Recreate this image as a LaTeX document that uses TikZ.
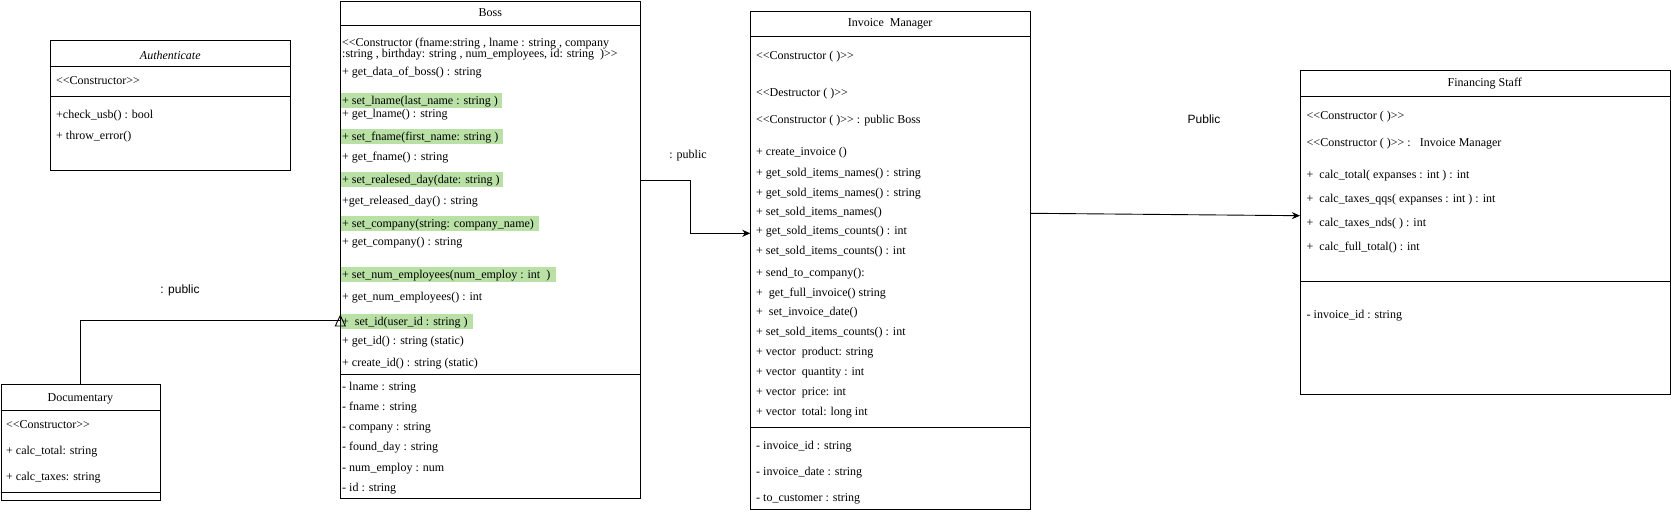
\documentclass[tikz,border=0pt]{standalone}
\usepackage{fontspec}
\setmainfont{Liberation Serif}
\newfontfamily\labelsans{Liberation Sans}
\usetikzlibrary{arrows.meta,calc}
\definecolor{hlgreen}{HTML}{B9E0A5}
\newcommand{\LL}{<\kern0pt<}
\newcommand{\GG}{>\kern0pt>}
\newcommand{\hlbox}[2]{\makebox[#1][l]{#2}}
\begin{document}
\begin{tikzpicture}[x=1pt,y=-1pt,
  cls/.style={draw, line width=0.9pt, inner sep=0, anchor=north west},
  sepline/.style={line width=0.9pt},
  item/.style={anchor=west, inner sep=0, font=\fontsize{12}{14}\selectfont, text height=8.5pt, text depth=2.5pt, yshift=-1.5pt},
  hitem/.style={item, yshift=0pt, text height=9.5pt, text depth=1.5pt, fill=hlgreen, inner xsep=1pt, inner ysep=2pt},
  ctitle/.style={inner sep=0, font=\fontsize{12}{14}\selectfont, yshift=-1pt},
  conn/.style={line width=0.9pt},
  tip/.style={-{Stealth[length=8pt,width=7pt,inset=2.5pt]}},
  lbl/.style={inner sep=0, font=\labelsans\fontsize{12}{14}\selectfont},
]
\useasboundingbox (0,0) rectangle (1671,513);

% ---------- Authenticate ----------
\node[cls, minimum width=240pt, minimum height=130pt] (auth) at (50.3,40.3) {};
\draw[sepline] ($(auth.north west)+(0,26)$) -- ($(auth.north east)+(0,26)$);
\draw[sepline] ($(auth.north west)+(0,56.4)$) -- ($(auth.north east)+(0,56.4)$);
\node[ctitle, font=\fontsize{12}{14}\selectfont\itshape] (authT) at (170.3,54) {Authenticate};
\node[item] (a1) at (56,80) {\LL Constructor\GG};
\node[item] (a2) at (56,114) {+check\_usb() : bool};
\node[item] (a3) at (56,134.7) {+ throw\_error()};

% ---------- Documentary ----------
\node[cls, minimum width=159.8pt, minimum height=115.7pt] (doc) at (0.5,384.3) {};
\draw[sepline] ($(doc.north west)+(0,25.7)$) -- ($(doc.north east)+(0,25.7)$);
\draw[sepline] ($(doc.north west)+(0,108)$) -- ($(doc.north east)+(0,108)$);
\node[ctitle] (docT) at (80.4,397.7) {Documentary};
\node[item] (d1) at (6,424) {\LL Constructor\GG};
\node[item] (d2) at (6,450) {+ calc\_total: string};
\node[item] (d3) at (6,476) {+ calc\_taxes: string};

% ---------- Boss ----------
\node[cls, minimum width=300pt, minimum height=497.3pt] (boss) at (340.3,1) {};
\draw[sepline] ($(boss.north west)+(0,24)$) -- ($(boss.north east)+(0,24)$);
\draw[sepline] ($(boss.north west)+(0,373.3)$) -- ($(boss.north east)+(0,373.3)$);
\node[ctitle] (bossT) at (490.3,12) {Boss};
\node[item] (b1) at (342,42.3) {\LL Constructor (fname:string , lname : string , company};
\node[item] (b2) at (342,53.5) {:string , birthday: string , num\_employees, id: string\ \ )\GG};
\node[item] (b3) at (342,71) {+ get\_data\_of\_boss() : string};
\node[hitem] (b4) at (341,99) {\hlbox{158.7pt}{+ set\_lname(last\_name : string )}};
\node[item] (b5) at (342,113.3) {+ get\_lname() : string};
\node[hitem] (b6) at (341,135.5) {\hlbox{159.7pt}{+ set\_fname(first\_name: string )}};
\node[item] (b7) at (342,155.7) {+ get\_fname() : string};
\node[hitem] (b8) at (341,178) {\hlbox{159.7pt}{+ set\_realesed\_day(date: string )}};
\node[item] (b9) at (342,199.7) {+get\_released\_day() : string};
\node[hitem] (b10) at (341,222.5) {\hlbox{196pt}{+ set\_company(string: company\_name)}};
\node[item] (b11) at (342,240.7) {+ get\_company() : string};
\node[hitem] (b12) at (341,273) {\hlbox{212.7pt}{+ set\_num\_employees(num\_employ : int\ \ )}};
\node[item] (b13) at (342,296) {+ get\_num\_employees() : int};
\node[hitem] (b14) at (341,320.3) {\hlbox{129.7pt}{+\ \ set\_id(user\_id : string )}};
\node[item] (b15) at (342,340) {+ get\_id() : string (static)};
\node[item] (b16) at (342,361.7) {+ create\_id() : string (static)};
\node[item] (b17) at (342,386) {- lname : string};
\node[item] (b18) at (342,406) {- fname : string};
\node[item] (b19) at (342,426) {- company : string};
\node[item] (b20) at (342,446) {- found\_day : string};
\node[item] (b21) at (342,466.7) {- num\_employ : num};
\node[item] (b22) at (342,486.7) {- id : string};

% ---------- Invoice Manager ----------
\node[cls, minimum width=279.7pt, minimum height=498.6pt] (inv) at (750.3,10.7) {};
\draw[sepline] ($(inv.north west)+(0,25.3)$) -- ($(inv.north east)+(0,25.3)$);
\draw[sepline] ($(inv.north west)+(0,417)$) -- ($(inv.north east)+(0,417)$);
\node[ctitle] (invT) at (890.15,23.3) {Invoice\ \ Manager};
\node[item] (i1) at (756,55) {\LL Constructor ( )\GG};
\node[item] (i2) at (756,91.7) {\LL Destructor ( )\GG};
\node[item] (i3) at (756,119) {\LL Constructor ( )\GG{} : public Boss};
\node[item] (i4) at (756,151) {+ create\_invoice ()};
\node[item] (i5) at (756,171.7) {+ get\_sold\_items\_names() : string};
\node[item] (i6) at (756,191.7) {+ get\_sold\_items\_names() : string};
\node[item] (i7) at (756,211) {+ set\_sold\_items\_names()};
\node[item] (i8) at (756,230) {+ get\_sold\_items\_counts() : int};
\node[item] (i9) at (756,250) {+ set\_sold\_items\_counts() : int};
\node[item] (i10) at (756,271.7) {+ send\_to\_company():};
\node[item] (i11) at (756,291.7) {+\ \ get\_full\_invoice() string};
\node[item] (i12) at (756,311) {+\ \ set\_invoice\_date()};
\node[item] (i13) at (756,331) {+ set\_sold\_items\_counts() : int};
\node[item] (i14) at (756,350.7) {+ vector\ \ product: string};
\node[item] (i15) at (756,371) {+ vector\ \ quantity : int};
\node[item] (i16) at (756,391) {+ vector\ \ price: int};
\node[item] (i17) at (756,411) {+ vector\ \ total: long int};
\node[item] (i18) at (756,445) {- invoice\_id : string};
\node[item] (i19) at (756,471) {- invoice\_date : string};
\node[item] (i20) at (756,497.3) {- to\_customer : string};

% ---------- Financing Staff ----------
\node[cls, minimum width=369.5pt, minimum height=323.5pt] (fin) at (1300,70.5) {};
\draw[sepline] ($(fin.north west)+(0,25.5)$) -- ($(fin.north east)+(0,25.5)$);
\draw[sepline] ($(fin.north west)+(0,210.5)$) -- ($(fin.north east)+(0,210.5)$);
\node[ctitle] (finT) at (1484.75,82.7) {Financing Staff};
\node[item] (f1) at (1306.5,115) {\LL Constructor ( )\GG};
\node[item] (f2) at (1306.5,141.7) {\LL Constructor ( )\GG{} :\ \ \ Invoice Manager};
\node[item] (f3) at (1306.5,174) {+\ \ calc\_total( expanses : int ) : int};
\node[item] (f4) at (1306.5,197.7) {+\ \ calc\_taxes\_qqs( expanses : int ) : int};
\node[item] (f5) at (1306.5,222) {+\ \ calc\_taxes\_nds( ) : int};
\node[item] (f6) at (1306.5,246) {+\ \ calc\_full\_total() : int};
\node[item] (f7) at (1306.5,314) {- invoice\_id : string};

% ---------- Connectors ----------
\coordinate (y320) at (0,320.3);
\coordinate (y316) at (0,315.5);
\coordinate (y180) at (0,180.3);
\coordinate (y233) at (0,233.3);
\coordinate (x690) at (690,0);
\coordinate (y213) at (0,213.3);
\coordinate (y216) at (0,215.7);

\draw[conn] (doc.north) |- (boss.west |- y320);
\draw[conn, line join=miter] (boss.west |- y316) -- ++(-5,10.5) -- ++(10,0) -- cycle;

\draw[conn, tip] (boss.east |- y180) -| (x690 |- y233) -- (inv.west |- y233);
\draw[conn, tip] (inv.east |- y213) -- (fin.west |- y216);

\node[lbl] (pub1) at (180,290) {: public};
\node[ctitle] (pub2) at (688,155) {: public};
\node[lbl] (pub3) at (1204,119.3) {Public};
\end{tikzpicture}
\end{document}
